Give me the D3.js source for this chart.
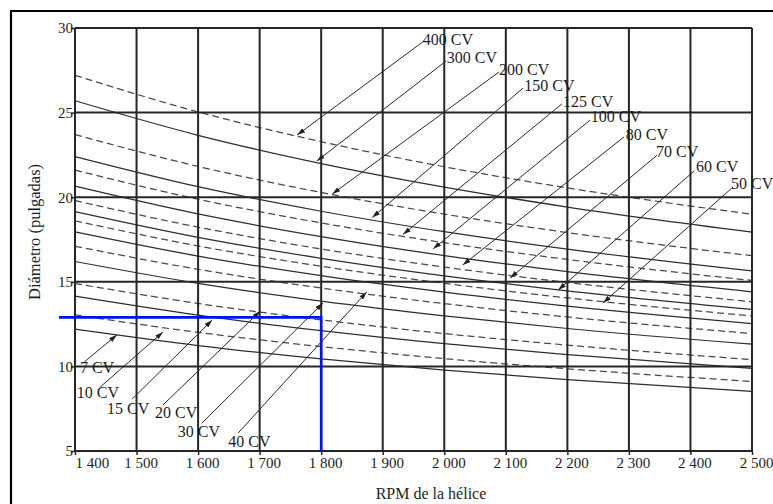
<!DOCTYPE html>
<html>
<head>
<meta charset="utf-8">
<script src="https://cdn.jsdelivr.net/npm/d3@7"></script>
<style>
body { margin: 0; background: #fff; }
svg text { font-family: "Liberation Serif", "DejaVu Serif", serif; fill: #1e1e1e; }
</style>
</head>
<body>
<svg id="chart"></svg>
<script>
// RPM columns where the curves were read
var rpm = [1400, 1600, 1800, 2000, 2200, 2500];

// diameter (inches) of each power curve at those RPM
var cv400 = [27.2, 25.04, 23.28, 21.80, 20.55, 18.99];
var cv300 = [25.7, 23.66, 21.99, 20.60, 19.42, 17.94];
var cv200 = [23.7, 21.82, 20.28, 19.00, 17.91, 16.54];
var cv150 = [22.4, 20.62, 19.17, 17.96, 16.93, 15.64];
var cv125 = [21.6, 19.88, 18.48, 17.31, 16.32, 15.08];
var cv100 = [20.65, 19.01, 17.67, 16.55, 15.60, 14.41];
var cv80  = [19.8, 18.23, 16.94, 15.87, 14.96, 13.82];
var cv70  = [19.15, 17.63, 16.39, 15.35, 14.47, 13.37];
var cv60  = [18.6, 17.12, 15.92, 14.91, 14.05, 12.98];
var cv50  = [17.95, 16.52, 15.36, 14.39, 13.56, 12.53];
var cv40  = [17.1, 15.74, 14.63, 13.71, 12.92, 11.94];
var cv30  = [16.2, 14.91, 13.86, 12.99, 12.24, 11.31];
var cv20  = [14.9, 13.72, 12.75, 11.94, 11.26, 10.40];
var cv15  = [14.15, 13.03, 12.11, 11.34, 10.69, 9.88];
var cv10  = [13.05, 12.01, 11.17, 10.46, 9.86, 9.11];
var cv7   = [12.2, 11.23, 10.44, 9.78, 9.22, 8.52];

var powerLabels = ["400 CV", "300 CV", "200 CV", "150 CV", "125 CV", "100 CV", "80 CV",
                   "70 CV", "60 CV", "50 CV", "40 CV", "30 CV", "20 CV", "15 CV", "10 CV", "7 CV"];
var curveValues = [cv400, cv300, cv200, cv150, cv125, cv100, cv80, cv70,
                   cv60, cv50, cv40, cv30, cv20, cv15, cv10, cv7];

var rpmTicks = [1400, 1500, 1600, 1700, 1800, 1900, 2000, 2100, 2200, 2300, 2400, 2500];
var diamTicks = [5, 10, 15, 20, 25, 30];

// blue reading example: 1800 rpm -> about 12.9 in
var guideRpm = [1374, 1800];
var guideDiam = 12.9;

// label annotations, in chart units (rpm, inches): text anchor, arrow start, arrow tip
var notes = [
  {t: "400 CV", lx: 1965, ly: 28.99, sx: 1967, sy: 29.23, tx: 1761, ty: 23.68},
  {t: "300 CV", lx: 2004, ly: 27.93, sx: 2003, sy: 28.05, tx: 1793, ty: 22.14},
  {t: "200 CV", lx: 2089, ly: 27.22, sx: 2089, sy: 27.40, tx: 1818, ty: 20.19},
  {t: "150 CV", lx: 2130, ly: 26.28, sx: 2128, sy: 26.45, tx: 1883, ty: 18.80},
  {t: "125 CV", lx: 2193, ly: 25.33, sx: 2191, sy: 25.51, tx: 1933, ty: 17.80},
  {t: "100 CV", lx: 2238, ly: 24.44, sx: 2237, sy: 24.56, tx: 1982, ty: 16.95},
  {t: "80 CV",  lx: 2295, ly: 23.38, sx: 2292, sy: 23.56, tx: 2030, ty: 15.99},
  {t: "70 CV",  lx: 2344, ly: 22.38, sx: 2346, sy: 22.49, tx: 2107, ty: 15.22},
  {t: "60 CV",  lx: 2409, ly: 21.49, sx: 2406, sy: 21.55, tx: 2185, ty: 14.51},
  {t: "50 CV",  lx: 2466, ly: 20.48, sx: 2469, sy: 20.60, tx: 2258, ty: 13.75},
  {t: "7 CV",   lx: 1408, ly: 9.61,  sx: 1415, sy: 10.26, tx: 1468, ty: 11.86},
  {t: "10 CV",  lx: 1403, ly: 8.13,  sx: 1441, sy: 8.78,  tx: 1543, ty: 12.03},
  {t: "15 CV",  lx: 1452, ly: 7.19,  sx: 1493, sy: 8.07,  tx: 1623, ty: 12.74},
  {t: "20 CV",  lx: 1530, ly: 6.95,  sx: 1543, sy: 7.72,  tx: 1701, ty: 13.27},
  {t: "30 CV",  lx: 1567, ly: 5.83,  sx: 1606, sy: 6.65,  tx: 1803, ty: 13.75},
  {t: "40 CV",  lx: 1649, ly: 5.24,  sx: 1665, sy: 6.06,  tx: 1874, ty: 14.40}
];

var margin = {top: 28, right: 21, bottom: 53, left: 75},
    width = 773 - margin.left - margin.right,
    height = 504 - margin.top - margin.bottom;

var svg = d3.select("#chart")
    .attr("width", 773)
    .attr("height", 504);

// outer frame (top and left edges only are visible)
svg.append("path")
    .attr("d", "M11,504 V11 H773")
    .attr("fill", "none")
    .attr("stroke", "#000")
    .attr("stroke-width", 2.2);

var g = svg.append("g")
    .attr("transform", "translate(" + margin.left + "," + margin.top + ")");

var x = d3.scaleLinear().domain([1400, 2500]).range([0, width]);
var y = d3.scaleLinear().domain([5, 30]).range([height, 0]);

var fmt = d3.formatLocale({decimal: ",", thousands: " ", grouping: [3], currency: ["", ""]}).format(",");

// arrow head
svg.append("defs").append("marker")
    .attr("id", "head")
    .attr("markerUnits", "userSpaceOnUse")
    .attr("viewBox", "0 0 8 5")
    .attr("markerWidth", 8)
    .attr("markerHeight", 5)
    .attr("refX", 8)
    .attr("refY", 2.5)
    .attr("orient", "auto")
  .append("path")
    .attr("d", "M0,0 L8,2.5 L0,5 Z")
    .attr("fill", "#222");

// curves
var line = d3.line()
    .x(function(d, i) { return x(rpm[i]); })
    .y(function(d) { return y(d); })
    .curve(d3.curveMonotoneX);

g.selectAll(".curve")
    .data(curveValues)
  .enter().append("path")
    .attr("class", "curve")
    .attr("d", line)
    .attr("fill", "none")
    .attr("stroke", function(d, i) { return i % 2 === 0 ? "#4a4a4a" : "#2e2e2e"; })
    .attr("stroke-width", 1.25)
    .attr("stroke-dasharray", function(d, i) { return i % 2 === 0 ? "7,4" : null; });

// grid
g.selectAll(".vgrid")
    .data(rpmTicks)
  .enter().append("line")
    .attr("x1", function(d) { return x(d); })
    .attr("x2", function(d) { return x(d); })
    .attr("y1", 0)
    .attr("y2", height)
    .attr("stroke", "#262626")
    .attr("stroke-width", 2);

g.selectAll(".hgrid")
    .data(diamTicks)
  .enter().append("line")
    .attr("x1", 0)
    .attr("x2", width)
    .attr("y1", function(d) { return y(d); })
    .attr("y2", function(d) { return y(d); })
    .attr("stroke", "#262626")
    .attr("stroke-width", 2);

// axes
var xAxis = g.append("g")
    .attr("transform", "translate(0," + height + ")")
    .call(d3.axisBottom(x).tickValues(rpmTicks).tickFormat(fmt).tickSize(4).tickPadding(2));
xAxis.select(".domain").remove();
xAxis.selectAll("line").attr("stroke", "#262626").attr("stroke-width", 1.5);
xAxis.selectAll("text")
    .style("font-size", "15px")
    .style("font-family", "'Liberation Serif', serif")
    .attr("fill", "#1e1e1e")
    .attr("text-anchor", function(d, i) { return i === 0 ? "start" : "middle"; })
    .attr("dx", function(d, i) { return i === 0 ? 0 : 4; });

var yAxis = g.append("g")
    .call(d3.axisLeft(y).tickValues(diamTicks).tickSize(4).tickPadding(-2));
yAxis.select(".domain").remove();
yAxis.selectAll("line").attr("stroke", "#262626").attr("stroke-width", 1.5);
yAxis.selectAll("text")
    .style("font-size", "15px")
    .style("font-family", "'Liberation Serif', serif")
    .attr("fill", "#1e1e1e");

// arrows and labels
g.selectAll(".arrow")
    .data(notes)
  .enter().append("line")
    .attr("x1", function(d) { return x(d.sx); })
    .attr("y1", function(d) { return y(d.sy); })
    .attr("x2", function(d) { return x(d.tx); })
    .attr("y2", function(d) { return y(d.ty); })
    .attr("stroke", "#2a2a2a")
    .attr("stroke-width", 1)
    .attr("marker-end", "url(#head)");

g.selectAll(".note")
    .data(notes)
  .enter().append("text")
    .attr("x", function(d) { return x(d.lx); })
    .attr("y", function(d) { return y(d.ly); })
    .style("font-size", "16px")
    .text(function(d) { return d.t; });

// blue reading guide
g.append("path")
    .attr("d", "M" + x(guideRpm[0]) + "," + y(guideDiam) + " H" + x(guideRpm[1]) + " V" + y(5))
    .attr("fill", "none")
    .attr("stroke", "#0010ff")
    .attr("stroke-width", 2.6);

// titles
g.append("text")
    .attr("transform", "rotate(-90)")
    .attr("x", -(232 - margin.top))
    .attr("y", 40 - margin.left)
    .attr("text-anchor", "middle")
    .style("font-size", "16.5px")
    .text("Diámetro (pulgadas)");

g.append("text")
    .attr("x", 431 - margin.left)
    .attr("y", 499 - margin.top)
    .attr("text-anchor", "middle")
    .style("font-size", "16px")
    .text("RPM de la hélice");
</script>
</body>
</html>
